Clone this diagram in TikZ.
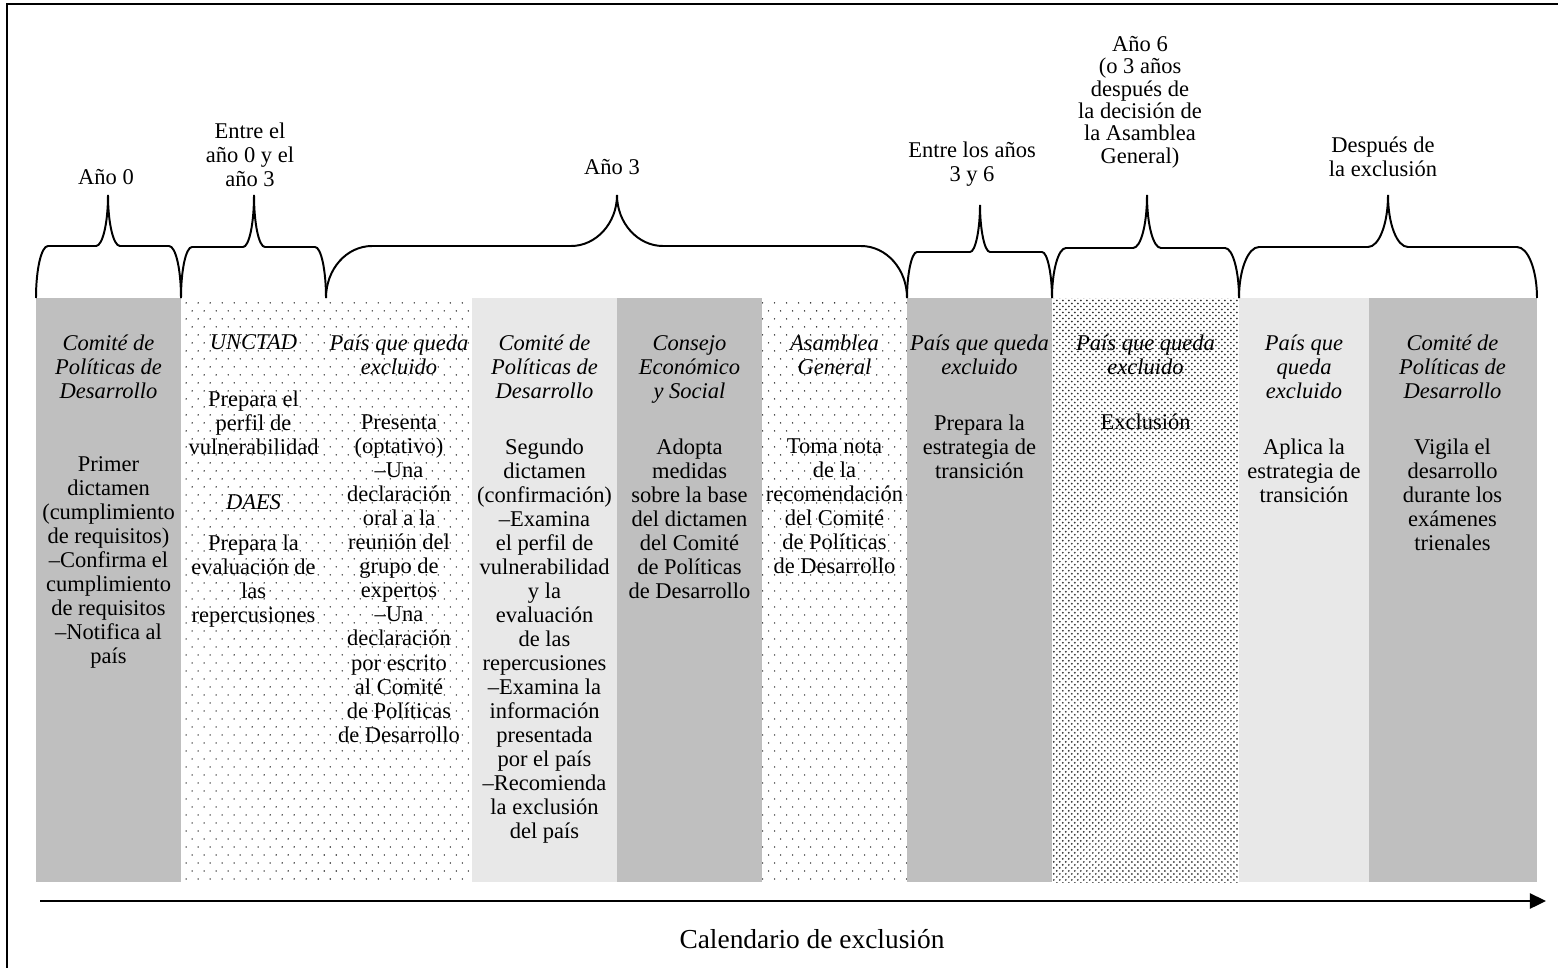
\documentclass[tikz,border=0pt]{standalone}
\usepackage{fontspec}
\setmainfont{Liberation Serif}
\usetikzlibrary{arrows.meta,patterns}

\definecolor{midgray}{RGB}{191,191,191}
\definecolor{palegray}{RGB}{232,232,232}

% dot screens of the shaded columns
\pgfdeclarepatternformonly{sparsedots}{\pgfqpoint{-0.6pt}{-0.6pt}}{\pgfqpoint{7.9pt}{10.8pt}}{\pgfqpoint{8.54pt}{11.38pt}}{%
  \pgfpathcircle{\pgfqpoint{0pt}{0pt}}{0.55pt}%
  \pgfpathcircle{\pgfqpoint{4.27pt}{5.69pt}}{0.55pt}%
  \pgfusepath{fill}}
\pgfdeclarepatternformonly{densedots}{\pgfqpoint{-0.7pt}{-0.7pt}}{\pgfqpoint{3.5pt}{3.5pt}}{\pgfqpoint{4.27pt}{4.27pt}}{%
  \pgfpathcircle{\pgfqpoint{0pt}{0pt}}{0.7pt}%
  \pgfpathcircle{\pgfqpoint{2.13pt}{2.13pt}}{0.7pt}%
  \pgfusepath{fill}}

% curly brace over a period: left, tip, right, curve, flat y, tip y
\newcommand{\yearbrace}[6]{%
  \draw[yrbrace] (#1,298) .. controls (#1,{#5+23}) and ({#1+0.45*#4},#5) .. ({#1+#4},#5)
    -- ({#2-#4},#5) .. controls ({#2-0.45*#4},#5) and (#2,{#5-23}) .. (#2,#6)
    .. controls (#2,{#5-23}) and ({#2+0.45*#4},#5) .. ({#2+#4},#5)
    -- ({#3-#4},#5) .. controls ({#3-0.45*#4},#5) and (#3,{#5+23}) .. (#3,298);}

\begin{document}
\begin{tikzpicture}[x=0.025cm,y=-0.025cm,
lbl/.style={font=\fontsize{16}{17.07}\selectfont,align=center,anchor=north,inner sep=0pt,
  yshift=10pt,execute at begin node={\rule{0pt}{15pt}}},
hdr/.style={lbl,font=\fontsize{16}{17.07}\selectfont\itshape},
one/.style={yshift=5pt},
yrbrace/.style={draw,line width=1.4pt},
frame/.style={draw,line width=1.2pt},
timeline/.style={line width=1.6pt,-{Triangle[length=11.4pt,width=10.7pt]}}]
\useasboundingbox (0,0) rectangle (1558,967);
\draw[frame] (7,4) rectangle (1564,974);

% columns
\fill[midgray] (36,298) rectangle (181,882);
\fill[pattern=sparsedots,pattern color=black!85] (181,298) rectangle (472,882);
\fill[palegray] (472,298) rectangle (617,882);
\fill[midgray] (617,298) rectangle (762,882);
\fill[pattern=sparsedots,pattern color=black!85] (762,298) rectangle (907,882);
\fill[midgray] (907,298) rectangle (1052,882);
\fill[pattern=densedots,pattern color=black!80] (1052,298) rectangle (1239,882);
\fill[palegray] (1239,298) rectangle (1369,882);
\fill[midgray] (1369,298) rectangle (1537,882);

% periods
\yearbrace{36}{108}{181}{12}{246}{195}
\yearbrace{181}{254}{326}{11}{247}{195}
\yearbrace{326}{617}{907}{46}{246}{195}
\yearbrace{907}{980}{1052}{10}{252}{205}
\yearbrace{1052}{1147}{1239}{14}{248}{195}
\yearbrace{1239}{1388}{1537}{20}{247}{195}

\node[lbl,one] (yr0) at (106,184) {Año 0};
\node[lbl] (yr03) at (250,137) {Entre el\\año 0 y el\\año 3};
\node[lbl,one] (yr3) at (612,174) {Año 3};
\node[lbl] (yr36) at (972,156) {Entre los años\\3 y 6};
\node[lbl,font=\fontsize{16}{15.9}\selectfont] (yr6) at (1140,50) {Año 6\\(o 3 años\\después de\\la decisión de\\la Asamblea\\General)};
\node[lbl] (after) at (1383,151) {Después de\\la exclusión};

% who does what
\node[hdr] (h1) at (108.5,349) {Comité de\\Políticas de\\Desarrollo};
\node[lbl] (b1) at (108.5,470) {Primer\\dictamen\\(cumplimiento\\de requisitos)\\–Confirma el\\cumplimiento\\de requisitos\\–Notifica al\\país};
\node[hdr,one] (h2) at (253.5,349) {UNCTAD};
\node[lbl] (b2) at (253.5,405) {Prepara el\\perfil de\\vulnerabilidad};
\node[hdr,one] (h2b) at (253.5,509) {DAES};
\node[lbl] (b2b) at (253.5,549) {Prepara la\\evaluación de\\las\\repercusiones};
\node[hdr] (h3) at (399,349) {País que queda\\excluido};
\node[lbl] (b3) at (399,429) {Presenta\\(optativo)\\–Una\\declaración\\oral a la\\reunión del\\grupo de\\expertos\\–Una\\declaración\\por escrito\\al Comité\\de Políticas\\de Desarrollo};
\node[hdr] (h4) at (544.5,349) {Comité de\\Políticas de\\Desarrollo};
\node[lbl] (b4) at (544.5,453) {Segundo\\dictamen\\(confirmación)\\–Examina\\el perfil de\\vulnerabilidad\\y la\\evaluación\\de las\\repercusiones\\–Examina la\\información\\presentada\\por el país\\–Recomienda\\la exclusión\\del país};
\node[hdr] (h5) at (689.5,349) {Consejo\\Económico\\y Social};
\node[lbl] (b5) at (689.5,453) {Adopta\\medidas\\sobre la base\\del dictamen\\del Comité\\de Políticas\\de Desarrollo};
\node[hdr] (h6) at (834.5,349) {Asamblea\\General};
\node[lbl] (b6) at (834.5,453) {Toma nota\\de la\\recomendación\\del Comité\\de Políticas\\de Desarrollo};
\node[hdr] (h7) at (979.5,349) {País que queda\\excluido};
\node[lbl] (b7) at (979.5,429) {Prepara la\\estrategia de\\transición};
\node[hdr] (h8) at (1145.5,349) {País que queda\\excluido};
\node[lbl,one] (b8) at (1145.5,429) {Exclusión};
\node[hdr] (h9) at (1304,349) {País que\\queda\\excluido};
\node[lbl] (b9) at (1304,453) {Aplica la\\estrategia de\\transición};
\node[hdr] (h10) at (1452.5,349) {Comité de\\Políticas de\\Desarrollo};
\node[lbl] (b10) at (1452.5,453) {Vigila el\\desarrollo\\durante los\\exámenes\\trienales};

% time axis
\coordinate (t0) at (40,901);
\coordinate (t1) at (1546,901);
\draw[timeline] (t0) -- (t1);
\node[lbl,one,font=\fontsize{19.5}{20}\selectfont] (axis) at (812,948) {Calendario de exclusión};
\end{tikzpicture}
\end{document}
